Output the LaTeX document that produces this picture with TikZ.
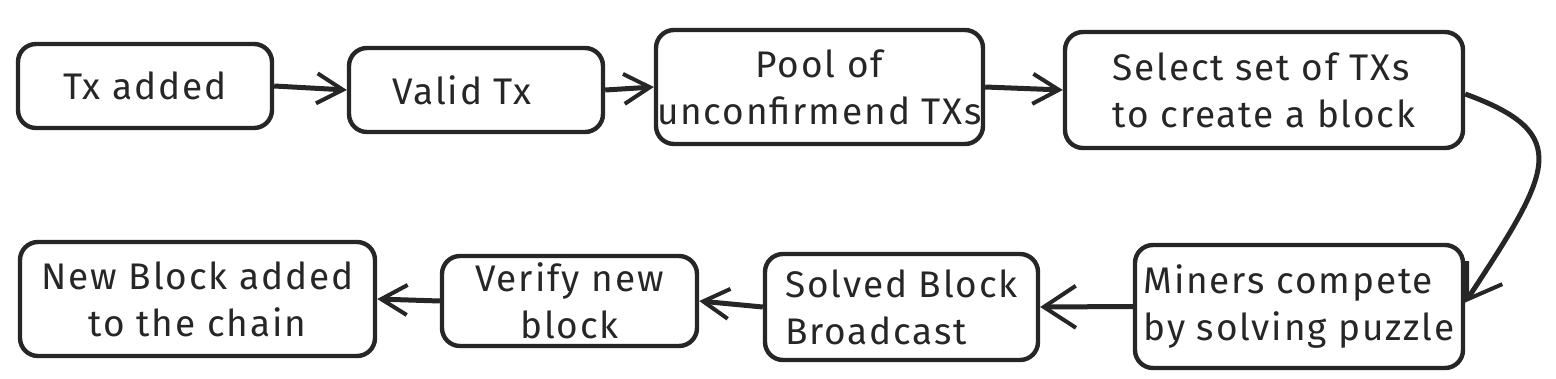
\documentclass[tikz,border=0pt]{standalone}
\usepackage{fontspec}
\setmainfont[LetterSpace=5]{Fira Sans}
\usetikzlibrary{arrows.meta}
\begin{document}
\begin{tikzpicture}[x=1pt,y=-1pt,
  box/.style={draw=black!85, line width=4.4pt, rounded corners=18pt, inner sep=0pt,
    font=\fontsize{37}{47}\selectfont, text=black!85},
  flow/.style={draw=black!85, line width=5pt,
    -{Straight Barb[length=26pt,width=30pt,line width=4pt]}},
  bigflow/.style={flow, -{Straight Barb[length=32pt,width=42pt,line width=4pt]}}]
\useasboundingbox (0,0) rectangle (1556,378);
\node[box, minimum width=254pt, minimum height=84pt] (a) at (145,86) {Tx added};
\node[box, minimum width=254pt, minimum height=84pt] (b) at (476,90) {\hspace*{-28pt}Valid Tx};
\node[box, minimum width=327pt, minimum height=114pt, align=center] (c) at (819.5,87) {Pool of\\unconfirmend TXs};
\node[box, minimum width=398pt, minimum height=116pt, align=left] (d) at (1264,90) {Select set of TXs\\to create a block};
\node[box, minimum width=328pt, minimum height=123pt, align=left] (e) at (1299,306.5) {Miners compete\\by solving puzzle};
\node[box, minimum width=273pt, minimum height=106pt, align=left] (f) at (901.5,307) {Solved Block\\Broadcast};
\node[box, minimum width=255pt, minimum height=90pt, align=center] (g) at (569.5,301) {Verify new\\block};
\node[box, minimum width=355pt, minimum height=114pt, align=center] (h) at (197.5,299) {New Block added\\to the chain};
\draw[flow] (a.east) -- (b.west);
\draw[flow] (b.east) -- (c.west);
\draw[flow] (c.east) -- (d.west);
\draw[bigflow] ([yshift=-4pt]d.east) .. controls +(110,40) and +(85,-130) .. ([yshift=4pt]e.east);
\draw[bigflow] (e.west) -- (f.east);
\draw[flow] (f.west) -- (g.east);
\draw[flow] (g.west) -- (h.east);
\end{tikzpicture}
\end{document}
